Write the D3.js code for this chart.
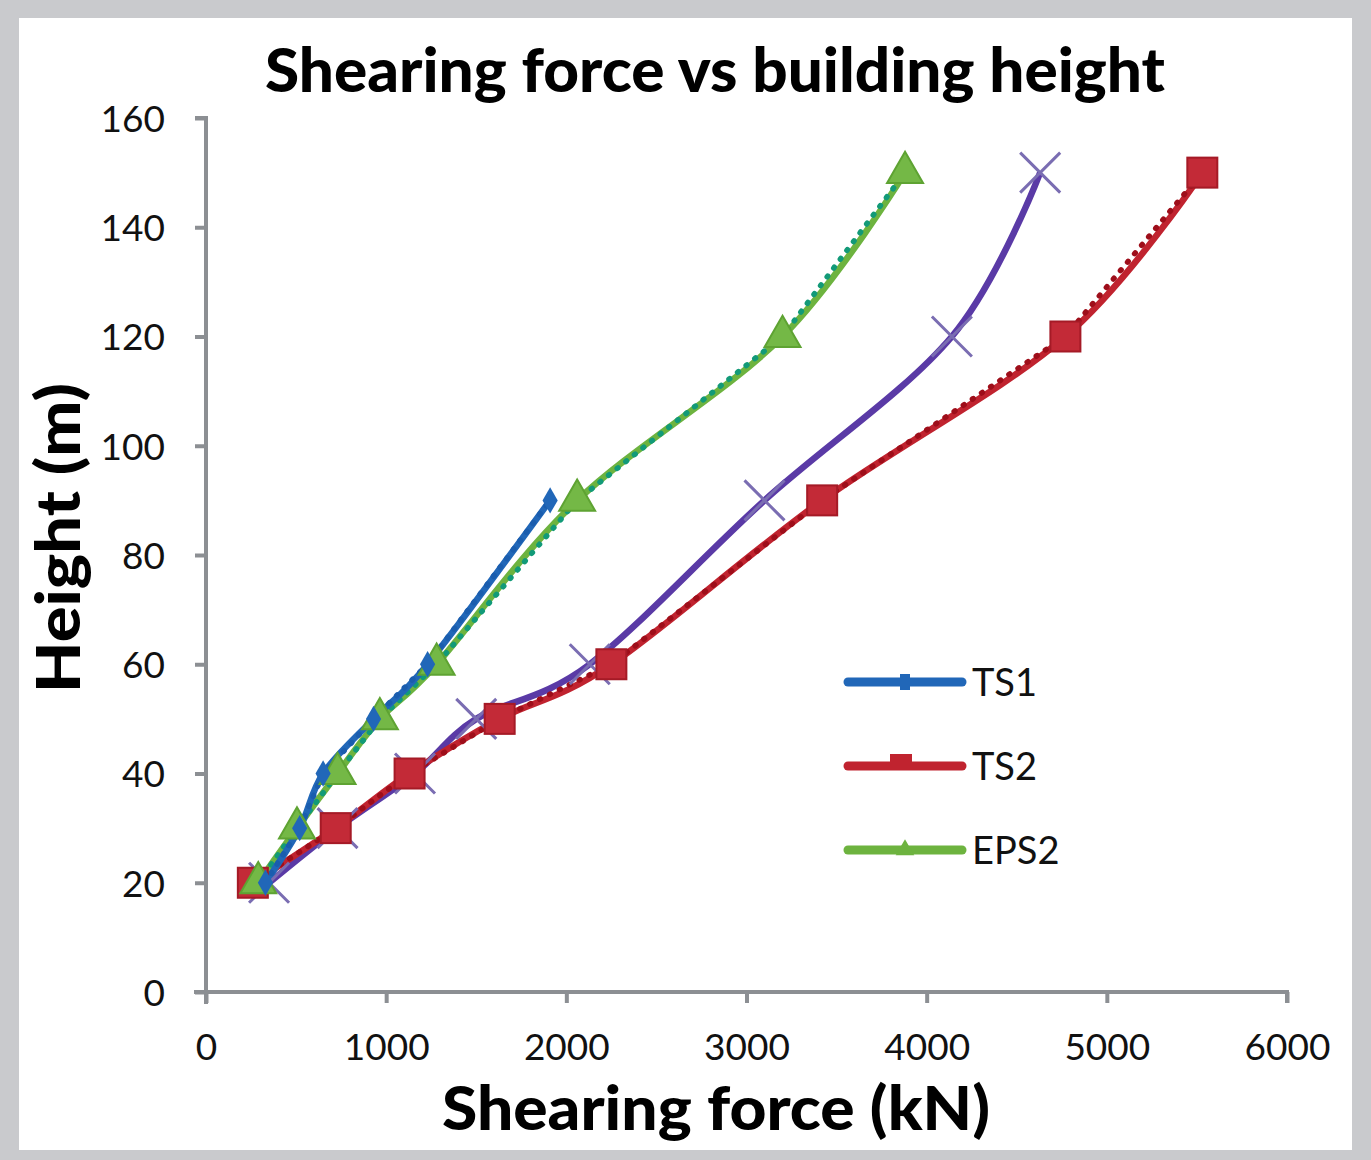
<!DOCTYPE html>
<html>
<head>
<meta charset="utf-8" />
<title>Shearing force vs building height</title>
<style>
  body { margin: 0; background: #c9cacd; }
  svg { display: block; }
</style>
</head>
<body>
<script src="https://d3js.org/d3.v7.min.js"></script>
<script>
// storey heights (m)
var heights = [20, 30, 40, 50, 60, 90, 120, 150];
var heightsTS1 = [20, 30, 40, 50, 60, 90];

// shearing force (kN)
var ts1 = [330, 520, 650, 930, 1230, 1910];
var ts2 = [260, 720, 1130, 1630, 2250, 3420, 4770, 5530];
var eps2 = [290, 505, 730, 965, 1280, 2060, 3200, 3880];
var extra = [350, 730, 1160, 1500, 2130, 3100, 4140, 4630];

var xTicks = [0, 1000, 2000, 3000, 4000, 5000, 6000];
var yTicks = [0, 20, 40, 60, 80, 100, 120, 140, 160];

var width = 1371, height = 1160;
var margin = {left: 206, right: 84, top: 118, bottom: 168};

var svg = d3.select("body").append("svg")
    .attr("width", width)
    .attr("height", height);

// grey frame + white card
svg.append("rect").attr("width", width).attr("height", height).attr("fill", "#c9cacd");
svg.append("rect").attr("x", 19).attr("y", 18).attr("width", 1333).attr("height", 1132).attr("fill", "#fff");

var x = d3.scaleLinear().domain([0, 6000]).range([margin.left, width - margin.right]);
var y = d3.scaleLinear().domain([0, 160]).range([height - margin.bottom, margin.top]);

var axisColor = "#8c8f93";
var tickFont = "Lato, 'Open Sans', sans-serif";

// axes
var yAxis = svg.append("g")
    .attr("transform", "translate(" + margin.left + ",0)")
    .call(d3.axisLeft(y).tickValues(yTicks).tickFormat(d3.format("d")).tickSize(11).tickPadding(30));
var xAxis = svg.append("g")
    .attr("transform", "translate(0," + y(0) + ")")
    .call(d3.axisBottom(x).tickValues(xTicks).tickFormat(d3.format("d")).tickSize(11).tickPadding(30));

[xAxis, yAxis].forEach(function(g) {
  g.select(".domain").attr("stroke", axisColor).attr("stroke-width", 4);
  g.selectAll(".tick line").attr("stroke", axisColor).attr("stroke-width", 4);
  g.selectAll(".tick text")
    .attr("fill", "#111")
    .style("font-family", tickFont)
    .style("font-size", "37px");
});
xAxis.selectAll(".tick text").attr("dy", "0.72em");
yAxis.selectAll(".tick text").attr("dy", "0.36em");
yAxis.select(".domain").attr("d", "M-11," + y(160) + "H0V" + (y(0) + 12));
xAxis.select(".domain").attr("d", "M" + (x(0) - 12) + ",0H" + x(6000) + "V11");

// titles
svg.append("text")
    .attr("x", 715).attr("y", 92)
    .attr("text-anchor", "middle")
    .attr("textLength", 900).attr("lengthAdjust", "spacingAndGlyphs")
    .style("font-family", "Lato, sans-serif").style("font-weight", 900)
    .style("font-size", "60px")
    .text("Shearing force vs building height");

svg.append("text")
    .attr("x", 716).attr("y", 1130)
    .attr("text-anchor", "middle")
    .attr("textLength", 548).attr("lengthAdjust", "spacingAndGlyphs")
    .style("font-family", "Lato, sans-serif").style("font-weight", 900)
    .style("font-size", "60px")
    .text("Shearing force (kN)");

svg.append("text")
    .attr("transform", "translate(80,538) rotate(-90)")
    .attr("text-anchor", "middle")
    .attr("textLength", 310).attr("lengthAdjust", "spacingAndGlyphs")
    .style("font-family", "Lato, sans-serif").style("font-weight", 900)
    .style("font-size", "60px")
    .text("Height (m)");

function pts(xs, hs) {
  return xs.map(function(v, i) { return [x(v), y(hs[i])]; });
}

var smooth = d3.line().curve(d3.curveCardinal.tension(0));
var straight = d3.line();

var series = [
  {name: "extra", vals: extra, hs: heights, color: "#5a3aa6", dot: null},
  {name: "TS2", vals: ts2, hs: heights, color: "#c0232f", dot: "#9e0e1a"},
  {name: "EPS2", vals: eps2, hs: heights, color: "#6db33f", dot: "#129a78"},
  {name: "TS1", vals: ts1, hs: heightsTS1, color: "#2167b8", dot: "#1a5dae"}
];

series.forEach(function(s) {
  var p = pts(s.vals, s.hs);
  svg.append("path")
    .attr("d", smooth(p))
    .attr("fill", "none")
    .attr("stroke", s.color)
    .attr("stroke-width", 6.5)
    .attr("stroke-linejoin", "round");
  if (s.dot) {
    svg.append("path")
      .attr("d", straight(p))
      .attr("fill", "none")
      .attr("stroke", s.dot)
      .attr("stroke-width", 5.5)
      .attr("stroke-linecap", "round")
      .attr("stroke-dasharray", "1 10");
  }
});

// markers
var mk = svg.append("g");
mk.selectAll(".x").data(pts(extra, heights)).enter().append("path")
  .attr("d", function(d) { return "M" + (d[0] - 20) + "," + (d[1] - 20) + "L" + (d[0] + 20) + "," + (d[1] + 20) +
                                 "M" + (d[0] - 20) + "," + (d[1] + 20) + "L" + (d[0] + 20) + "," + (d[1] - 20); })
  .attr("stroke", "#7a6db2").attr("stroke-width", 3).attr("fill", "none");

mk.selectAll(".sq").data(pts(ts2, heights)).enter().append("rect")
  .attr("x", function(d) { return d[0] - 15; })
  .attr("y", function(d) { return d[1] - 15; })
  .attr("width", 30).attr("height", 30)
  .attr("fill", "#c32a37").attr("stroke", "#a51a26").attr("stroke-width", 2);

var tri = d3.symbol().type(d3.symbolTriangle).size(560);
mk.selectAll(".tr").data(pts(eps2, heights)).enter().append("path")
  .attr("transform", function(d) { return "translate(" + d[0] + "," + d[1] + ")"; })
  .attr("d", tri)
  .attr("fill", "#74b846").attr("stroke", "#5ea332").attr("stroke-width", 2);

var dia = d3.symbol().type(d3.symbolDiamond).size(200);
mk.selectAll(".di").data(pts(ts1, heightsTS1)).enter().append("path")
  .attr("transform", function(d) { return "translate(" + d[0] + "," + d[1] + ")"; })
  .attr("d", dia)
  .attr("fill", "#2167b8");

// legend
var legendItems = [
  {label: "TS1", color: "#2167b8", y: 682},
  {label: "TS2", color: "#c0232f", y: 766},
  {label: "EPS2", color: "#6db33f", y: 850}
];
var lg = svg.append("g");
legendItems.forEach(function(d) {
  lg.append("line")
    .attr("x1", 848).attr("x2", 962).attr("y1", d.y).attr("y2", d.y)
    .attr("stroke", d.color).attr("stroke-width", 9).attr("stroke-linecap", "round");
  if (d.label === "TS1") {
    lg.append("rect").attr("x", 900).attr("y", d.y - 8).attr("width", 10).attr("height", 16).attr("fill", d.color);
  } else if (d.label === "TS2") {
    lg.append("rect").attr("x", 890).attr("y", d.y - 12).attr("width", 22).attr("height", 12).attr("fill", d.color);
  } else {
    lg.append("path").attr("transform", "translate(905," + d.y + ")")
      .attr("d", d3.symbol().type(d3.symbolTriangle).size(150)).attr("fill", d.color);
  }
  lg.append("text")
    .attr("x", 972).attr("y", d.y + 14)
    .style("font-family", tickFont).style("font-size", "38px")
    .attr("fill", "#111")
    .text(d.label);
});
</script>
</body>
</html>
